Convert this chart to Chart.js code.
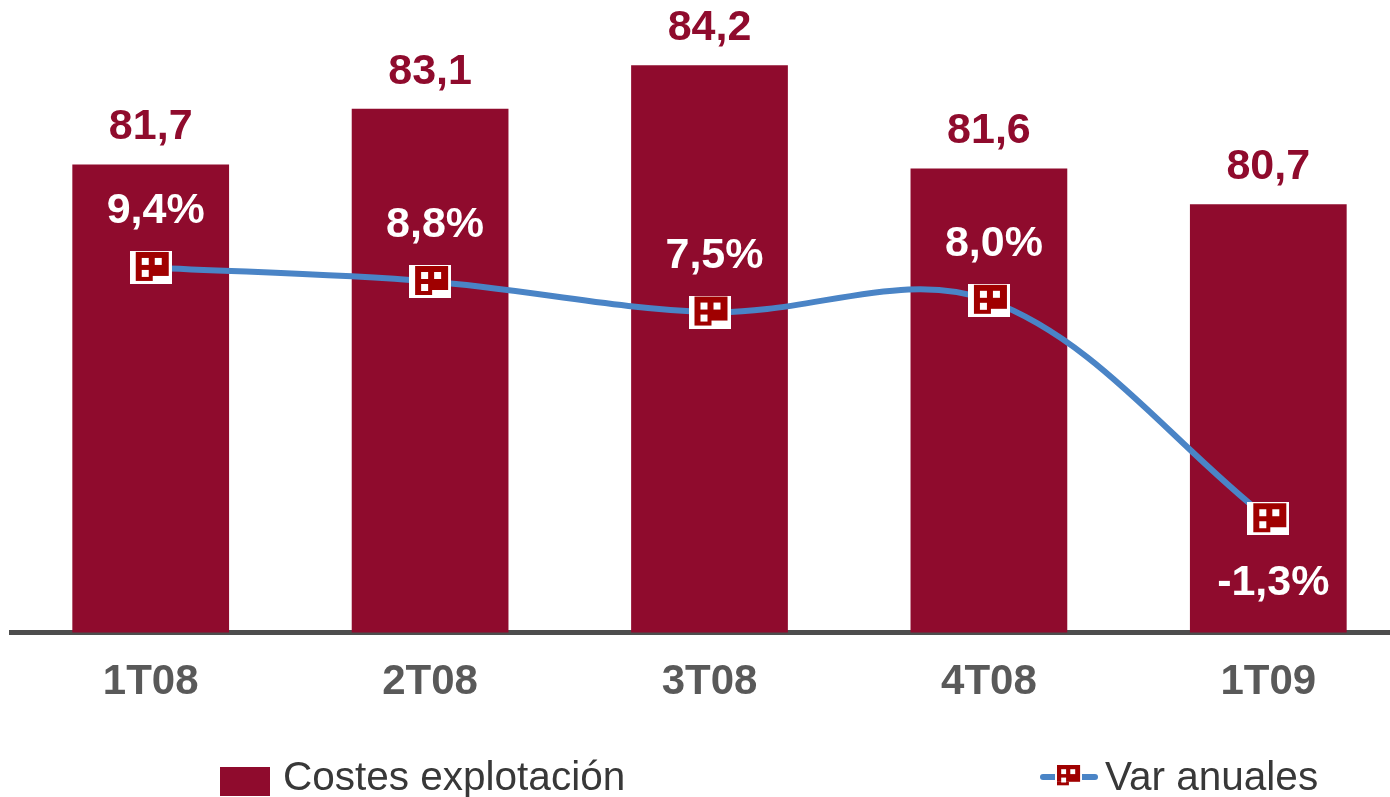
<!DOCTYPE html>
<html>
<head>
<meta charset="utf-8">
<script src="https://cdn.jsdelivr.net/npm/chart.js@4"></script>
<style>
  html, body { margin: 0; padding: 0; background: #fff; overflow: hidden; }
  #wrap { width: 1418px; height: 797px; }
</style>
</head>
<body>
<div id="wrap"><canvas id="chart" width="1418" height="797"></canvas></div>
<script>
const categories = ['1T08', '2T08', '3T08', '4T08', '1T09'];
const costes = [81.7, 83.1, 84.2, 81.6, 80.7];
const variacion = [9.4, 8.8, 7.5, 8.0, -1.3];
const costesLabels = ['81,7', '83,1', '84,2', '81,6', '80,7'];
const variacionLabels = ['9,4%', '8,8%', '7,5%', '8,0%', '-1,3%'];

const barColor = '#8F0B2D';
const lineColor = '#4A84C6';
const markRed = '#A00000';
const fontName = '"Liberation Sans", Arial, sans-serif';

// the little red shape used as point marker
function drawShape(ctx, x, y, s) {
    ctx.fillStyle = markRed;
    ctx.fillRect(x, y, 33 * s, 24 * s);
    ctx.fillRect(x, y + 24 * s, 17 * s, 5 * s);
    ctx.fillStyle = '#fff';
    ctx.fillRect(x + 6 * s, y + 6 * s, 7 * s, 7 * s);
    ctx.fillRect(x + 19 * s, y + 6 * s, 7 * s, 7 * s);
    ctx.fillRect(x + 6 * s, y + 18 * s, 7 * s, 7 * s);
}

function makeMarker() {
    let c = document.createElement('canvas');
    c.width = 42;
    c.height = 33;
    let ctx = c.getContext('2d');
    ctx.fillStyle = '#fff';
    ctx.fillRect(0, 0, 42, 33);
    drawShape(ctx, 6, 1, 1);
    return c;
}

const labelsPlugin = {
    id: 'valueLabels',
    afterDatasetsDraw(chart) {
        let ctx = chart.ctx;
        ctx.save();
        ctx.font = 'bold 43px ' + fontName;
        ctx.textAlign = 'center';

        let bars = chart.getDatasetMeta(1).data;
        ctx.fillStyle = barColor;
        ctx.textBaseline = 'alphabetic';
        bars.forEach((b, i) => {
            ctx.fillText(costesLabels[i], b.x, b.y - 25);
        });

        let pts = chart.getDatasetMeta(0).data;
        ctx.fillStyle = '#fff';
        ctx.textBaseline = 'middle';
        pts.forEach((p, i) => {
            let dy = variacion[i] < 0 ? 64 : -56;
            ctx.fillText(variacionLabels[i], p.x + 5, p.y + dy);
        });
        ctx.restore();
    },
    afterDraw(chart) {
        let ctx = chart.ctx;
        let ds = chart.data.datasets;
        ctx.save();
        ctx.font = '40.5px ' + fontName;
        ctx.textBaseline = 'alphabetic';
        ctx.textAlign = 'left';

        // bar legend item
        ctx.fillStyle = ds[1].backgroundColor;
        ctx.fillRect(220, 767, 50, 29);
        ctx.fillStyle = '#383838';
        ctx.fillText(ds[1].label, 283, 790);

        // line legend item
        ctx.strokeStyle = ds[0].borderColor;
        ctx.lineWidth = 6;
        ctx.lineCap = 'round';
        ctx.beginPath();
        ctx.moveTo(1043, 777);
        ctx.lineTo(1095, 777);
        ctx.stroke();
        ctx.fillStyle = '#fff';
        ctx.fillRect(1055, 764, 27, 24);
        drawShape(ctx, 1057, 765, 0.7);
        ctx.fillStyle = '#383838';
        ctx.fillText(ds[0].label, 1105, 790);
        ctx.restore();
    }
};

const marker = makeMarker();

new Chart(document.getElementById('chart'), {
    data: {
        labels: categories,
        datasets: [
            {
                type: 'line',
                label: 'Var anuales',
                data: variacion,
                yAxisID: 'y2',
                borderColor: lineColor,
                borderWidth: 6,
                tension: 0.35,
                pointStyle: marker,
                order: 0
            },
            {
                type: 'bar',
                label: 'Costes explotación',
                data: costes,
                yAxisID: 'y',
                backgroundColor: barColor,
                barPercentage: 0.561,
                categoryPercentage: 1,
                order: 1
            }
        ]
    },
    options: {
        responsive: false,
        animation: false,
        devicePixelRatio: 1,
        layout: { padding: { left: 11, right: 0, top: 0, bottom: 64 } },
        plugins: {
            legend: { display: false },
            tooltip: { enabled: false }
        },
        scales: {
            x: {
                grid: { display: false, drawTicks: false },
                border: { display: true, color: '#4D4D4D', width: 5 },
                ticks: {
                    padding: 25,
                    color: '#595959',
                    font: { family: fontName, size: 42, weight: 'bold' }
                }
            },
            y: { display: false, min: 69.91, max: 85.59 },
            y2: { display: false, min: -6.15, max: 20.36 }
        }
    },
    plugins: [labelsPlugin]
});
</script>
</body>
</html>
